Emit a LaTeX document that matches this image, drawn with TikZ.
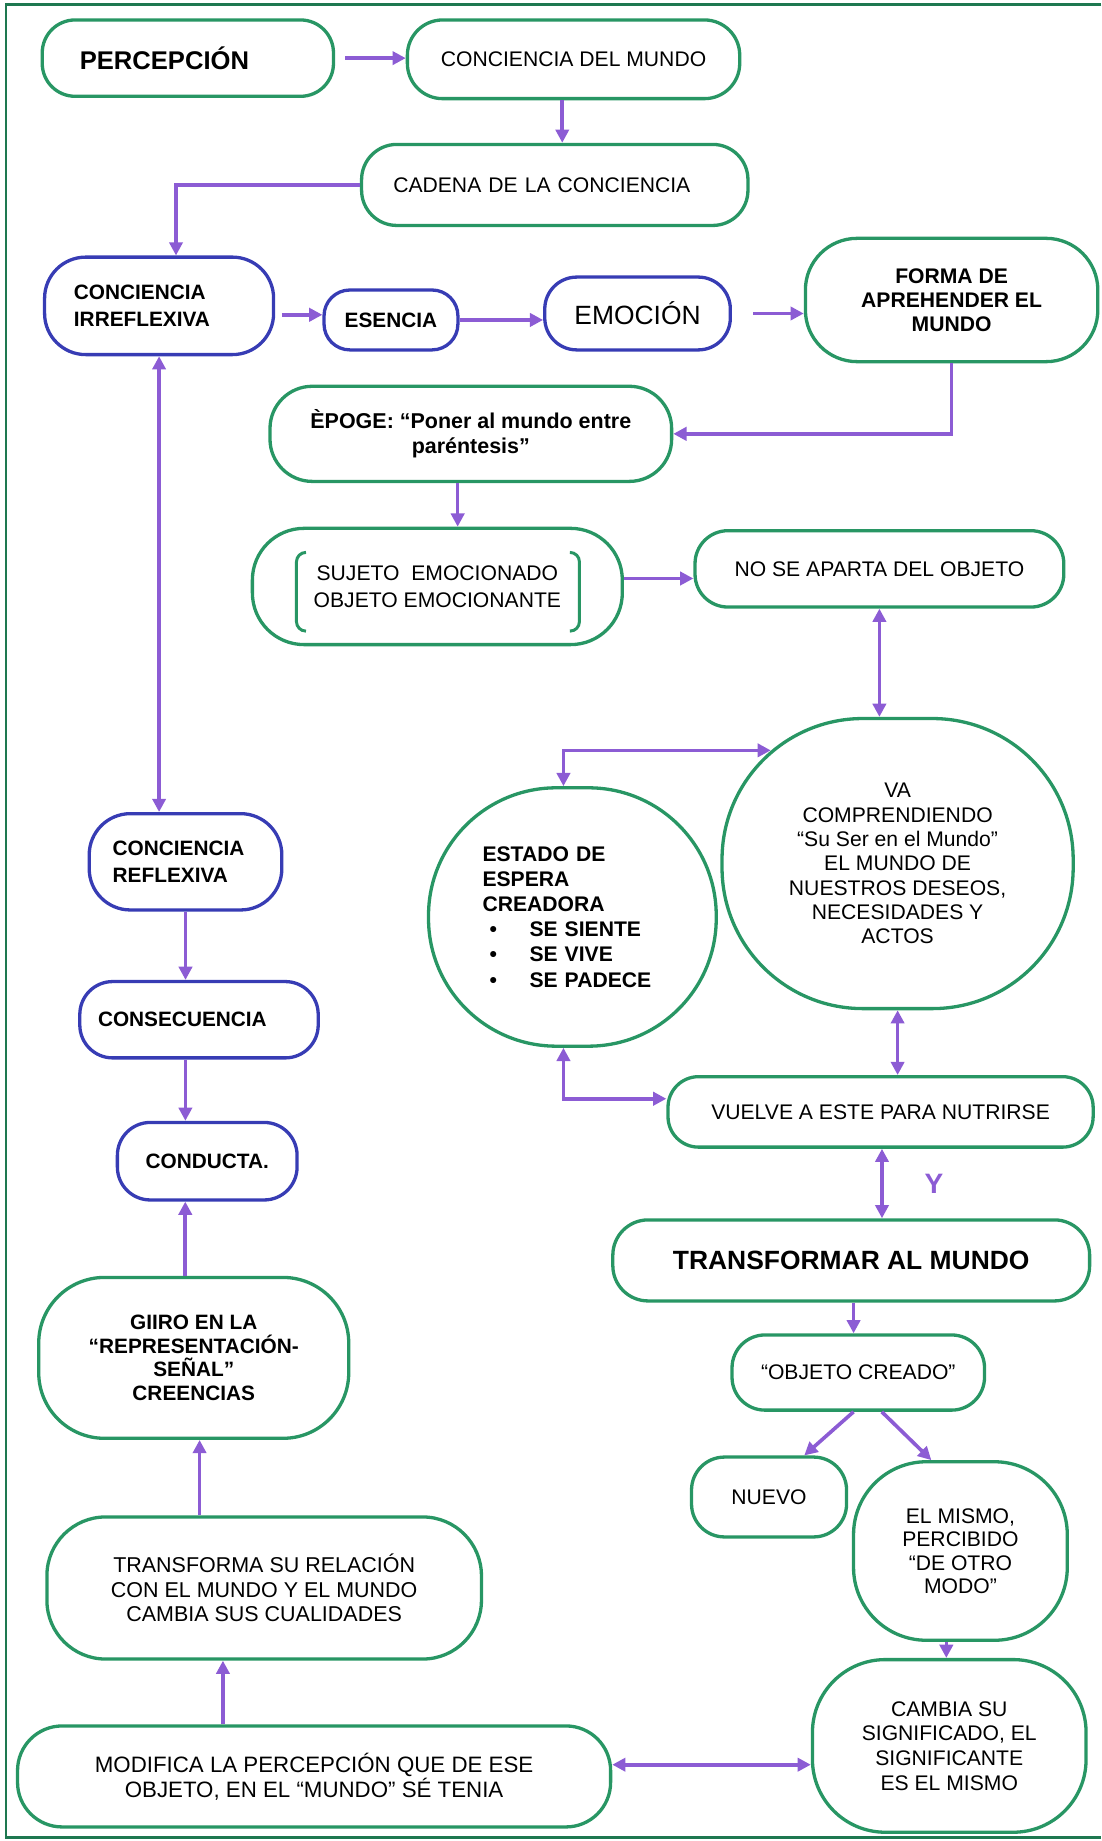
\documentclass[tikz,border=0pt]{standalone}
\usepackage{fontspec}
\setmainfont{Liberation Sans}
\usetikzlibrary{arrows.meta, positioning}

\definecolor{boxGreen}{RGB}{40,150,100}
\definecolor{boxBlue}{RGB}{55,60,180}
\definecolor{arrowPurple}{RGB}{140,92,212}
\definecolor{frameGreen}{RGB}{30,120,80}

\newcommand{\espBullet}{\hspace*{0.15cm}\makebox[0.85cm][l]{\textbullet}}

\begin{document}
\begin{tikzpicture}[
        x=0.025cm, y=-0.025cm,
        % Style for the green rounded boxes
        greenBox/.style={
            rectangle, draw=boxGreen, line width=2pt, fill=white,
            rounded corners=#1, inner sep=2pt, align=center,
            font=\fontsize{12.8}{14.8}\selectfont
        },
        greenBox/.default=0.7cm,
        % Style for the blue rounded boxes
        blueBox/.style={
            greenBox=#1, draw=boxBlue,
            font=\bfseries\fontsize{12.6}{16}\selectfont
        },
        blueBox/.default=0.7cm,
        % Arrows
        line/.style={draw=arrowPurple, line width=2.2pt, -{Triangle[length=8pt,width=8pt]}},
        dline/.style={line, {Triangle[length=8pt,width=8pt]}-{Triangle[length=8pt,width=8pt]}},
        bracket/.style={draw=boxGreen, line width=1.8pt, rounded corners=0.2cm}
    ]

        \useasboundingbox (0,0) rectangle (938,1568);

        % Frame (open on the right)
        \draw [frameGreen, line width=1.5pt] (938,4) -- (5,4) -- (5,1565) -- (938,1565);

        % --- Nodes ---

        % 1. Top row
        \node [greenBox, minimum width=6.2cm, minimum height=1.625cm, text width=4.6cm, align=left,
               font=\bfseries\fontsize{15.5}{18}\selectfont] (percepcion) at (160,49.5) {PERCEPCIÓN};
        \node [greenBox=0.75cm, minimum width=7.075cm, minimum height=1.675cm] (cmundo) at (488.5,50.5) {CONCIENCIA DEL MUNDO};
        \node [greenBox=0.75cm, minimum width=8.225cm, minimum height=1.725cm, text width=6.875cm, align=left] (cadena) at (472.5,157.5) {CADENA DE LA CONCIENCIA};

        % 2. Blue row
        \node [blueBox=0.875cm, minimum width=4.875cm, minimum height=2.075cm, text width=3.625cm, align=left] (irreflexiva) at (135.5,260.5) {CONCIENCIA\\IRREFLEXIVA};
        \node [blueBox=0.55cm, minimum width=2.85cm, minimum height=1.275cm] (esencia) at (333,272.5) {ESENCIA};
        \node [blueBox=0.68cm, minimum width=3.95cm, minimum height=1.55cm, font=\fontsize{16}{19}\selectfont] (emocion) at (543,267) {EMOCIÓN};
        \node [greenBox=1.1cm, minimum width=6.225cm, minimum height=2.625cm,
               font=\bfseries\fontsize{12.8}{14.6}\selectfont] (forma) at (810.5,255.5) {FORMA DE\\APREHENDER EL\\MUNDO};

        % 3. Epoge and the emotional pair
        \node [greenBox=0.9cm, minimum width=8.55cm, minimum height=2.025cm,
               font=\bfseries\fontsize{13}{15}\selectfont] (epoge) at (401,369.5) {ÈPOGE: “Poner al mundo entre\\paréntesis”};
        \node [greenBox=1.1cm, minimum width=7.875cm, minimum height=2.475cm,
               font=\fontsize{12.8}{16.3}\selectfont] (sujeto) at (372.5,499.5) {SUJETO~~EMOCIONADO\\OBJETO EMOCIONANTE};
        \node [greenBox, minimum width=7.85cm, minimum height=1.625cm] (noaparta) at (749,484.5) {NO SE APARTA DEL OBJETO};

        % brackets inside the pair box
        \begin{scope}[shift={(sujeto.center)}]
            \draw [bracket] (-112,-29) -- (-120,-29) -- (-120,38) -- (-112,38);
            \draw [bracket] (113,-29) -- (121,-29) -- (121,38) -- (113,38);
        \end{scope}

        % 4. The two round shapes
        \node [greenBox=3.0cm, minimum width=7.475cm, minimum height=6.175cm,
               font=\fontsize{12.8}{14.7}\selectfont] (va) at (764.5,735.5)
              {VA\\COMPRENDIENDO\\“Su Ser en el Mundo”\\EL MUNDO DE\\NUESTROS DESEOS,\\NECESIDADES Y\\ACTOS};
        \node [greenBox=2.72cm, minimum width=6.125cm, minimum height=5.5cm, text width=3.825cm, align=left,
               font=\bfseries\fontsize{12.8}{15.2}\selectfont] (estado) at (487.5,781)
              {ESTADO DE\\ESPERA\\CREADORA\\\espBullet SE SIENTE\\\espBullet SE VIVE\\\espBullet SE PADECE};
        \node [greenBox=0.65cm, minimum width=9.05cm, minimum height=1.5cm] (vuelve) at (750,947) {VUELVE A ESTE PARA NUTRIRSE};

        % 5. Right column, bottom
        \node [greenBox=0.75cm, minimum width=10.15cm, minimum height=1.725cm,
               font=\bfseries\fontsize{16}{19}\selectfont] (transformar) at (725,1073.5) {TRANSFORMAR AL MUNDO};
        \node [greenBox, minimum width=5.375cm, minimum height=1.6cm] (objeto) at (731,1169) {“OBJETO CREADO”};
        \node [greenBox, minimum width=3.3cm, minimum height=1.7cm] (nuevo) at (655,1275) {NUEVO};
        \node [greenBox=1.55cm, minimum width=4.55cm, minimum height=3.8cm,
               font=\fontsize{12.8}{14.2}\selectfont] (mismo) at (818,1321) {EL MISMO,\\PERCIBIDO\\“DE OTRO\\MODO”};
        \node [greenBox=1.55cm, minimum width=5.825cm, minimum height=3.675cm,
               font=\fontsize{12.8}{14.9}\selectfont] (cambia) at (808.5,1487) {CAMBIA SU\\SIGNIFICADO, EL\\SIGNIFICANTE\\ES EL MISMO};

        % 6. Left column
        \node [blueBox=0.875cm, minimum width=4.1cm, minimum height=2.05cm, text width=3.1cm, align=left] (reflexiva) at (158,734) {CONCIENCIA\\REFLEXIVA};
        \node [blueBox, minimum width=5.075cm, minimum height=1.625cm, text width=4.3cm, align=left] (consecuencia) at (169.5,868.5) {CONSECUENCIA};
        \node [blueBox, minimum width=3.825cm, minimum height=1.65cm] (conducta) at (176.5,989) {CONDUCTA.};
        \node [greenBox=1.4cm, minimum width=6.6cm, minimum height=3.425cm,
               font=\bfseries\fontsize{12.6}{14.4}\selectfont] (giiro) at (165,1156.5) {GIIRO EN LA\\“REPRESENTACIÓN-\\SEÑAL”\\CREENCIAS};
        \node [greenBox=1.25cm, minimum width=9.25cm, minimum height=3.025cm,
               font=\fontsize{13}{15}\selectfont] (transforma) at (225,1352.5) {TRANSFORMA SU RELACIÓN\\CON EL MUNDO Y EL MUNDO\\CAMBIA SUS CUALIDADES};
        \node [greenBox=0.95cm, minimum width=12.625cm, minimum height=2.15cm,
               font=\fontsize{13.5}{15}\selectfont] (modifica) at (267.5,1513) {MODIFICA LA PERCEPCIÓN QUE DE ESE\\OBJETO, EN EL “MUNDO” SÉ TENIA};


        % --- Edges ---

        % top of the chain
        \path [line, shorten <=6pt] (percepcion.east) -- (percepcion.east -| cmundo.west);
        \path [line] ([xshift=-0.24cm]cmundo.south) -- ([xshift=-0.24cm]cmundo.south |- cadena.north);
        \path [line] (cadena.west) -| ([xshift=0.36cm]irreflexiva.north);

        % blue row
        \path [line, shorten <=4pt] ([yshift=-0.19cm]irreflexiva.east) -- ([yshift=-0.19cm]irreflexiva.east -| esencia.west);
        \path [line] (esencia.east) -- (esencia.east -| emocion.west);
        \path [line, shorten <=13pt] (emocion.east) -- (emocion.east -| forma.west);
        \path [line] (forma.south) |- (epoge.east);
        \path [line] ([xshift=-0.28cm]epoge.south) -- ([xshift=-0.28cm]epoge.south |- sujeto.north);
        \path [line] ([yshift=0.17cm]sujeto.east) -- ([yshift=0.17cm]sujeto.east -| noaparta.west);

        % irreflexive <-> reflexive consciousness
        \path [dline] (irreflexiva.south) -- (irreflexiva.south |- reflexiva.north);

        % around the round shapes
        \path [dline] (noaparta.south) -- (noaparta.south |- va.north);
        \path [dline] ([xshift=-0.19cm]estado.north) |- ([shift={(-2.7cm,2.41cm)}]va.center);
        \path [dline] (va.south) -- (va.south |- vuelve.north);
        \path [dline] ([xshift=-0.19cm]estado.south) |- ([yshift=0.28cm]vuelve.west);
        \path [dline] ([xshift=0.03cm]vuelve.south) -- ([xshift=0.03cm]vuelve.south |- transformar.north)
            node [midway, right=0.75cm, text=arrowPurple, font=\bfseries\fontsize{17}{20}\selectfont] {Y};

        % created object
        \path [line] ([xshift=0.05cm]transformar.south) -- ([xshift=0.05cm]transformar.south |- objeto.north);
        \path [line] ([xshift=-0.1cm]objeto.south) -- ([xshift=0.75cm]nuevo.north);
        \path [line] ([xshift=0.5cm]objeto.south) -- ([xshift=-0.62cm]mismo.north);
        \path [line] ([xshift=-0.3cm]mismo.south) -- ([xshift=-0.3cm]mismo.south |- cambia.north);
        \path [dline] ([yshift=0.25cm]modifica.east) -- ([yshift=0.25cm]modifica.east -| cambia.west);

        % left column, going up and down
        \path [line] ([xshift=-1.94cm]modifica.north) -- ([xshift=-1.94cm]modifica.north |- transforma.south);
        \path [line] ([xshift=-1.375cm]transforma.north) -- ([xshift=-1.375cm]transforma.north |- giiro.south);
        \path [line] ([xshift=-0.18cm]giiro.north) -- ([xshift=-0.18cm]giiro.north |- conducta.south);
        \path [line] (reflexiva.south) -- (reflexiva.south |- consecuencia.north);
        \path [line] ([xshift=-0.29cm]consecuencia.south) -- ([xshift=-0.29cm]consecuencia.south |- conducta.north);

    \end{tikzpicture}
\end{document}
